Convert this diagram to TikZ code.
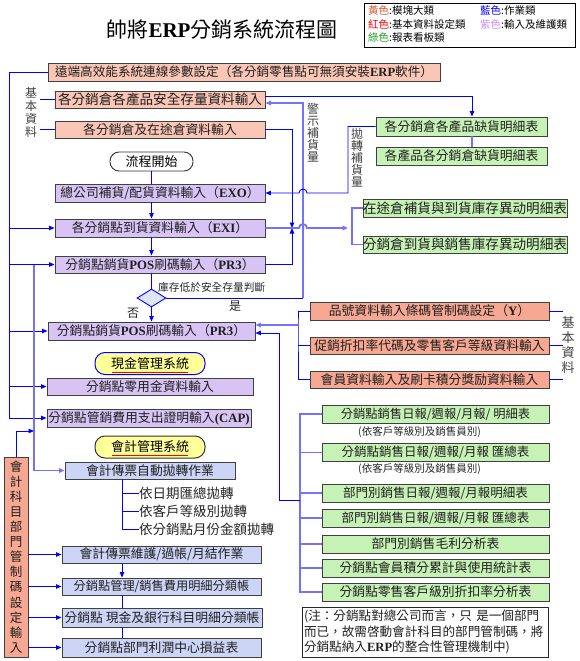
\documentclass[tikz,border=0pt]{standalone}
\usepackage{fontspec}
\setmainfont{Noto Sans CJK TC}
\newfontfamily\enfont{Liberation Serif}
\usetikzlibrary{shapes.geometric,arrows.meta}
\newcommand\myfs[1]{\fontsize{#1pt}{#1pt}\selectfont}
\newcommand\myfsl[2]{\fontsize{#1pt}{#2pt}\selectfont}
\newcommand\EN[1]{{\enfont\bfseries #1}}
\definecolor{rfill}{HTML}{FAC6B6}
\definecolor{rrfill}{HTML}{F6A892}
\definecolor{pfill}{HTML}{D7C4F4}
\definecolor{bfill}{HTML}{CCD5F6}
\definecolor{gfill}{HTML}{C7F2B6}
\definecolor{yfill}{HTML}{FFFF99}
\definecolor{dfill}{HTML}{DCE6F4}
\definecolor{lblue}{HTML}{7272FF}
\definecolor{yel}{HTML}{D9542B}
\definecolor{vio}{HTML}{C68CFF}
\definecolor{grn}{HTML}{22A022}
\begin{document}
\begin{tikzpicture}[x=1pt,y=-1pt,
  >={Triangle[length=5.5pt,width=4.5pt]},
  box/.style={draw=black!75, line width=0.9pt, inner sep=0pt, minimum height=18pt, font=\myfs{12.8}, text=black!88},
  rbox/.style={box, fill=rfill},
  rrbox/.style={box, fill=rrfill},
  pbox/.style={box, fill=pfill},
  bbox/.style={box, fill=bfill},
  gbox/.style={box, fill=gfill},
  ybox/.style={draw=black!80, line width=1pt, fill=yfill, rounded corners=10pt, minimum width=110pt, minimum height=22pt, inner sep=0pt, font=\myfs{13}},
  startbox/.style={draw=black!80, line width=0.9pt, fill=white, rounded corners=9pt, minimum width=83pt, minimum height=19pt, inner sep=0pt, font=\myfs{13}},
  lbl/.style={inner sep=0pt, font=\myfs{12.8}, text=black!85},
  vlbl/.style={inner sep=0pt, align=center, text=black!75},
  leg/.style={inner sep=0pt, font=\myfs{10.5}},
  cthin/.style={draw=blue, line width=0.9pt},
  cthick/.style={draw=lblue, line width=1.8pt},
  cmed/.style={draw=lblue, line width=1.3pt}
]
\useasboundingbox (0,0) rectangle (579,661);

% ---------- title and legend ----------
\node[inner sep=0pt, font=\myfs{21}] (title) at (222,30) {帥將\EN{ERP}分銷系統流程圖};
\node[draw=black, line width=0.8pt, minimum width=211pt, minimum height=44pt, inner sep=0pt] (legend) at (469.5,25) {};
\node[leg, anchor=west] (l1) at (368,11) {\textcolor{yel}{黃色}:模塊大類};
\node[leg, anchor=west] (l2) at (480,11) {\textcolor{blue}{藍色}:作業類};
\node[leg, anchor=west] (l3) at (368,24.5) {\textcolor{red}{紅色}:基本資料設定類};
\node[leg, anchor=west] (l4) at (480,24.5) {\textcolor{vio}{紫色}:輸入及維護類};
\node[leg, anchor=west] (l5) at (368,38) {\textcolor{grn}{綠色}:報表看板類};

% ---------- left column ----------
\node[rbox, minimum width=392pt, font=\myfs{12.6}] (remote) at (244,72) {遠端高效能系統連線參數設定（各分銷零售點可無須安裝\EN{ERP}軟件）};
\node[rbox, minimum width=210pt, minimum height=17pt, font=\myfs{13.6}] (safe) at (160,99.5) {各分銷倉各產品安全存量資料輸入};
\node[rbox, minimum width=210pt, minimum height=17pt] (transit) at (160,129.5) {各分銷倉及在途倉資料輸入};
\node[startbox] (start) at (151.5,161.5) {流程開始};
\node[pbox, minimum width=210pt] (exo) at (160,193) {總公司補貨/配貨資料輸入（\EN{EXO}）};
\node[pbox, minimum width=210pt] (exi) at (160,228) {各分銷點到貨資料輸入（\EN{EXI}）};
\node[pbox, minimum width=210pt, minimum height=17pt] (pr3a) at (160,264.5) {分銷點銷貨\EN{POS}刷碼輸入（\EN{PR3}）};
\node[diamond, draw=blue, line width=0.9pt, fill=dfill, minimum width=29pt, minimum height=18pt, inner sep=0pt] (dec) at (151.5,298) {};
\node[lbl, anchor=west, font=\myfs{10.7}] (judge) at (158,287) {庫存低於安全存量判斷};
\node[lbl, font=\myfs{12}] (no) at (133,313) {否};
\node[lbl, font=\myfs{12}] (yes) at (235,306) {是};
\node[pbox, minimum width=207pt] (pr3b) at (151.5,331) {分銷點銷貨\EN{POS}刷碼輸入（\EN{PR3}）};
\node[ybox, draw=blue] (cash) at (150,363.5) {現金管理系統};
\node[pbox, minimum width=206pt, minimum height=17pt] (petty) at (150,386.5) {分銷點零用金資料輸入};
\node[pbox, minimum width=204pt] (cap) at (149,418) {分銷點管銷費用支出證明輸入\EN{(CAP)}};
\node[ybox] (acct) at (150,447) {會計管理系統};
\node[bbox, minimum width=170pt, minimum height=17pt] (auto) at (150,470.5) {會計傳票自動拋轉作業};
\node[lbl, anchor=west, font=\myfs{13.5}] (s1) at (139,493) {依日期匯總拋轉};
\node[lbl, anchor=west, font=\myfs{13.5}] (s2) at (139,511) {依客戶等級別拋轉};
\node[lbl, anchor=west, font=\myfs{13.5}] (s3) at (139,529) {依分銷點月份金額拋轉};
\node[bbox, minimum width=199pt, minimum height=17pt] (maint) at (161.5,554.5) {會計傳票維護/過帳/月結作業};
\node[bbox, minimum width=199pt, minimum height=17pt, font=\myfs{12.2}] (ledger1) at (161.5,586.5) {分銷點管理/銷售費用明細分類帳};
\node[bbox, minimum width=200pt, minimum height=19pt] (ledger2) at (162,617.5) {分銷點 現金及銀行科目明細分類帳};
\node[bbox, minimum width=199pt, minimum height=19pt] (pl) at (161.5,647.5) {分銷點部門利潤中心損益表};
\node[rrbox, minimum width=24pt, minimum height=200pt, align=center, font=\myfsl{12.5}{15.1}] (acctcode) at (16,557) {會\\計\\科\\目\\部\\門\\管\\制\\碼\\設\\定\\輸\\入};
\node[vlbl, font=\myfsl{12}{12.8}] (basicL) at (31,112.5) {基\\本\\資\\料};

% ---------- right column ----------
\node[gbox, minimum width=171pt, minimum height=19pt] (short1) at (461.5,126.5) {各分銷倉各產品缺貨明細表};
\node[gbox, minimum width=171pt] (short2) at (461.5,156) {各產品各分銷倉缺貨明細表};
\node[vlbl, font=\myfsl{12}{12}] (warn) at (313,133) {警\\示\\補\\貨\\量};
\node[vlbl, font=\myfsl{12}{12}] (throw) at (357,158) {拋\\轉\\補\\貨\\量};
\node[gbox, minimum width=202pt, font=\myfs{13.6}] (tr1) at (465,208) {在途倉補貨與到貨庫存異动明細表};
\node[gbox, minimum width=202pt, minimum height=17pt, font=\myfs{13.6}] (tr2) at (465,244.5) {分銷倉到貨與銷售庫存異动明細表};
\node[rrbox, minimum width=239pt] (item) at (429.5,311) {品號資料輸入條碼管制碼設定（\EN{Y}）};
\node[rrbox, minimum width=239pt, minimum height=17pt] (promo) at (429.5,345.5) {促銷折扣率代碼及零售客戶等級資料輸入};
\node[rrbox, minimum width=239pt, minimum height=17pt] (member) at (429.5,379.5) {會員資料輸入及刷卡積分獎励資料輸入};
\node[vlbl, font=\myfsl{13}{15.2}] (basicR) at (568,345) {基\\本\\資\\料};
\node[gbox, minimum width=227pt, font=\myfs{12.3}] (rep1) at (435.5,414) {分銷點銷售日報/週報/月報/ 明細表};
\node[lbl, anchor=west, font=\myfs{10.5}] (n1) at (358,432) {(依客戶等級別及銷售員別)};
\node[gbox, minimum width=227pt, font=\myfs{12.5}] (rep2) at (435.5,452.5) {分銷點銷售日報/週報/月報 匯總表};
\node[lbl, anchor=west, font=\myfs{10.5}] (n2) at (358,469) {(依客戶等級別及銷售員別)};
\node[gbox, minimum width=227pt, font=\myfs{12.5}] (rep3) at (435.5,493) {部門別銷售日報/週報/月報明細表};
\node[gbox, minimum width=227pt, font=\myfs{12.5}] (rep4) at (435.5,518) {部門別銷售日報/週報/月報 匯總表};
\node[gbox, minimum width=227pt] (rep5) at (435.5,544) {部門別銷售毛利分析表};
\node[gbox, minimum width=227pt] (rep6) at (435.5,568) {分銷點會員積分累計與使用統計表};
\node[gbox, minimum width=227pt] (rep7) at (435.5,592) {分銷點零售客戶級別折扣率分析表};
\node[draw=black!85, line width=0.9pt, minimum width=246pt, minimum height=50pt, inner sep=2pt, text width=242pt, align=left, font=\myfsl{12.6}{15.5}, text=black!88] (note) at (425,632) {(注：分銷點對總公司而言，只 是一個部門\\而已，故需啓動會計科目的部門管制碼，將\\分銷點納入\EN{ERP}的整合性管理機制中)};

% underlines of the pills
\draw[red, line width=1pt] ([xshift=-38pt,yshift=-8.5pt]cash.center) -- ([xshift=38pt,yshift=-8.5pt]cash.center);
\draw[red, line width=1pt] ([xshift=-38pt,yshift=-8.5pt]acct.center) -- ([xshift=38pt,yshift=-8.5pt]acct.center);

% ---------- coordinates for trunks ----------
\coordinate (LT) at (9,72);
\coordinate (T2) at (34,264.5);
\coordinate (K1) at (34,431);
\coordinate (A1) at (122,479);
\coordinate (BL) at (40,99.5);
\coordinate (S1) at (472,96);
\coordinate (W0) at (303,298);
\coordinate (W1) at (303,103);
\coordinate (P) at (348,193);
\coordinate (JA) at (292,228);
\coordinate (TR) at (352,228);
\coordinate (RV) at (298,325);
\coordinate (GV) at (300,500);
\coordinate (TV) at (279,333);
\coordinate (BR) at (563,311);

% ---------- connectors: left ----------
\draw[cthin,->] (remote.west) -- (LT) |- (cap.west);
\foreach \n in {exi,pr3a,pr3b,petty} \draw[cthin,->] (LT |- \n.west) -- (\n.west);
\draw[cthick,->] (T2) |- (auto.west);
\draw[cthin,->] (acctcode.north) |- (K1);
\foreach \n in {maint,ledger1,ledger2,pl} \draw[cthin,->] (acctcode.east |- \n.west) -- (\n.west);
\draw[cthin] (BL |- safe.west) -- (safe.west);
\draw[cthin] (BL |- transit.west) -- (transit.west);

% sub items of auto
\draw[cthin] (A1) |- (s3.west);
\draw[cthin] (A1 |- s1.west) -- (s1.west);
\draw[cthin] (A1 |- s2.west) -- (s2.west);
\draw[cthin,->] (A1 |- maint.south) -- (A1 |- ledger1.north);
\draw[cthin] (A1 |- ledger1.south) -- (A1 |- ledger2.north);
\draw[cthin] (A1 |- ledger2.south) -- (A1 |- pl.north);

% main chain
\draw[cthin] (start.south) -- (start.south |- exo.north);
\draw[cthin,->] (start.south |- exo.south) -- (start.south |- exi.north);
\draw[cthin,->] (start.south |- exi.south) -- (start.south |- pr3a.north);
\draw[cthin] (start.south |- pr3a.south) -- (dec.north);
\draw[cthin,->] (dec.south) -- (pr3b.north);

% ---------- connectors: right ----------
\draw[cthin,->] (safe.east |- S1) -- (S1) -- (S1 |- short1.north);
\draw[cmed] (S1 |- short1.south) -- (S1 |- short2.north);
\draw[cthin] (dec.east) -- (W0);
\draw[cthick,->] (W0) -- (W1) -- (safe.east |- W1);
\draw[cthin,->] (short1.west) -| (P) -- (307,193) arc (0:-180:4) -- (exo.east);
\draw[cthin,->] (transit.east) -| (JA);
\draw[cthin,->] (pr3a.east) -| (JA);
\draw[cthick,->] (exi.east) -- (299,228) arc (180:360:4) -- (348,228);
\draw[cthick] (tr1.west) -| (TR) |- (tr2.west);
\draw[cthin] (item.west) -| (RV) |- (member.west);
\draw[cthin] (RV |- promo.west) -- (promo.west);
\draw[cthick,->] (RV) -- (pr3b.east |- RV);
\draw[cthick] (rep1.west) -| (GV) |- (rep7.west);
\foreach \n in {rep2,rep3,rep4,rep5,rep6} \draw[cthick] (GV |- \n.west) -- (\n.west);
\draw[cthin,->] (GV) -| (TV) -- (pr3b.east |- TV);
\draw[cthin] (item.east) -- (BR);
\draw[cthin] (promo.east) -- (BR |- promo.east);
\draw[cthin] (member.east) -- (BR |- member.east);
\end{tikzpicture}
\end{document}
